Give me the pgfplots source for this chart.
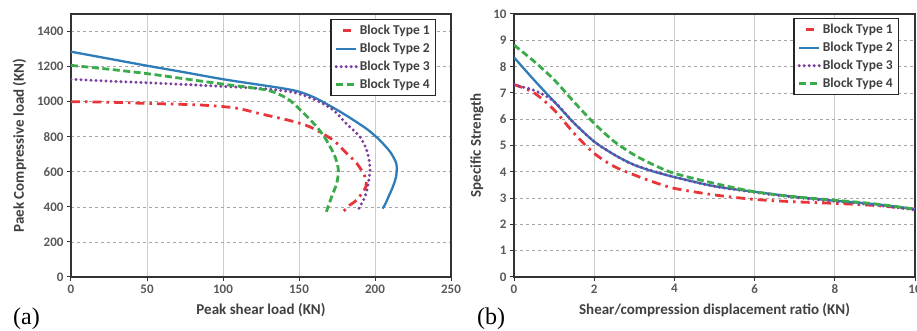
\documentclass[border=0pt]{standalone}
\usepackage{pgfplots}
\pgfplotsset{compat=1.18}
\usepackage{fontspec}
\setmainfont{Carlito}
\newfontfamily\serifa{Liberation Serif}
\definecolor{cR}{HTML}{E8353A}
\definecolor{cB}{HTML}{2F7DB8}
\definecolor{cP}{HTML}{7A3E9D}
\definecolor{cG}{HTML}{3AAA4A}
\definecolor{txt}{HTML}{404040}
\definecolor{tickc}{HTML}{595959}
\pgfplotsset{
 mystyle/.style={
   scale only axis, height=263pt,
   axis line style={draw=black!80, line width=1.4pt},
   tick align=outside, xtick pos=bottom, ytick pos=left,
   major tick length=4pt,
   tick style={black!80, line width=1pt},
   ymajorgrids, xmajorgrids,
   y grid style={gray!70, dashed, line width=0.7pt},
   x grid style={gray!40, line width=0.8pt},
   ticklabel style={font=\fontsize{13}{15}\selectfont\bfseries, text=tickc},
   /pgf/number format/assume math mode=true,
   /pgf/number format/1000 sep={},
   scaled ticks=false,
   label style={font=\fontsize{15}{17}\selectfont\bfseries, text=txt},
   xlabel style={yshift=-3pt},
   legend style={draw=black!85, line width=1.5pt, fill=white, font=\fontsize{13.5}{15}\selectfont\bfseries, text=txt, row sep=3pt, inner sep=3.5pt, cells={anchor=west}},
   legend image code/.code={\draw[##1] (0pt,0pt) -- (20pt,0pt);},
 },
 redleg/.style={legend image code/.code={\draw[##1, solid] (7pt,0pt) -- (15pt,0pt);}},
 s1/.style={cR, line width=2.8pt, dash pattern=on 9pt off 5pt on 2.5pt off 5pt, smooth, redleg},
 s2/.style={cB, line width=2.3pt, smooth},
 s3/.style={cP, line width=3.3pt, line cap=round, dash pattern=on 0pt off 5pt, smooth},
 s4/.style={cG, line width=2.8pt, dash pattern=on 7pt off 3.5pt, smooth},
}
\begin{document}
\begin{tikzpicture}
\useasboundingbox (0,0) rectangle (917pt,331pt);
\begin{axis}[mystyle, width=380pt, at={(71pt,54pt)}, anchor=south west,
  xmin=0, xmax=250, ymin=0, ymax=1500,
  xtick={0,50,...,250}, ytick={0,200,...,1400},
  xlabel={Peak shear load (KN)}, ylabel={Paek Compressive load (KN)},
  ylabel style={yshift=4pt},
  legend style={at={(axis description cs:1,1)}, anchor=north east, xshift=-15pt, yshift=-5pt}]
\addplot[s1] coordinates {(0,1000)(25,997)(50,990)(85,981)(108,964)(125,930)(145,890)(157,857)(168,805)(174,770)(181,708)(188,648)(193.4,572)(194,515)(188,439)(183.5,411)(179,372)};
\addlegendentry{Block Type 1}
\addplot[s2] coordinates {(0,1285)(25,1245)(50,1205)(75,1167)(100,1128)(125,1095)(140,1075)(150,1057)(161,1020)(177,943)(194,848)(203,781)(210,713)(214,647)(214,580)(212,520)(209,460)(207,420)(205,390)};
\addlegendentry{Block Type 2}
\addplot[s3] coordinates {(0,1128)(25,1117)(50,1108)(75,1098)(100,1087)(125,1075)(140,1062)(150,1045)(162,1005)(172.6,952)(181,876)(190,800)(194.5,724)(196.7,629)(195.6,534)(193.4,458)(190,401)(189,386)};
\addlegendentry{Block Type 3}
\addplot[s4] coordinates {(0,1207)(25,1185)(50,1160)(75,1130)(100,1100)(128.7,1066)(142,1019)(151,952)(161.6,857)(168,781)(173.7,686)(175.9,610)(174.8,534)(171.5,458)(168,372)};
\addlegendentry{Block Type 4}
\end{axis}
\begin{axis}[mystyle, width=401pt, at={(514pt,54pt)}, anchor=south west,
  xmin=0, xmax=10, ymin=0, ymax=10,
  xtick={0,2,...,10}, ytick={0,1,...,10},
  xlabel={Shear/compression displacement ratio (KN)}, ylabel={Specific Strength},
  ylabel style={yshift=3pt},
  legend style={at={(axis description cs:1,1)}, anchor=north east, xshift=-16pt, yshift=-4pt}]
\addplot[s1] coordinates {(0,7.32)(0.5,7.0)(1,6.35)(1.5,5.46)(2,4.7)(2.5,4.2)(3,3.88)(3.5,3.6)(4,3.37)(5,3.12)(6,2.95)(7,2.86)(8,2.8)(9,2.72)(10,2.58)};
\addlegendentry{Block Type 1}
\addplot[s2] coordinates {(0,8.35)(0.5,7.49)(1,6.67)(1.5,5.85)(2,5.15)(2.5,4.65)(3,4.26)(3.5,4.0)(4,3.8)(5,3.45)(6,3.24)(7,3.05)(8,2.9)(9,2.77)(10,2.58)};
\addlegendentry{Block Type 2}
\addplot[s3] coordinates {(0,7.3)(0.5,7.1)(1,6.67)(1.5,5.85)(2,5.15)(2.5,4.65)(3,4.26)(4,3.8)(5,3.45)(6,3.22)(7,3.03)(8,2.88)(9,2.74)(10,2.55)};
\addlegendentry{Block Type 3}
\addplot[s4] coordinates {(0,8.82)(0.5,8.2)(1,7.5)(1.5,6.65)(2,5.84)(2.5,5.15)(3,4.64)(3.5,4.25)(4,3.94)(5,3.56)(6,3.24)(7,3.05)(8,2.92)(9,2.78)(10,2.58)};
\addlegendentry{Block Type 4}
\end{axis}
\node[anchor=south west, inner sep=0pt, font=\serifa\fontsize{24}{26}\selectfont] at (13pt,1pt) {(a)};
\node[anchor=south west, inner sep=0pt, font=\serifa\fontsize{24}{26}\selectfont] at (477pt,1pt) {(b)};
\end{tikzpicture}
\end{document}
